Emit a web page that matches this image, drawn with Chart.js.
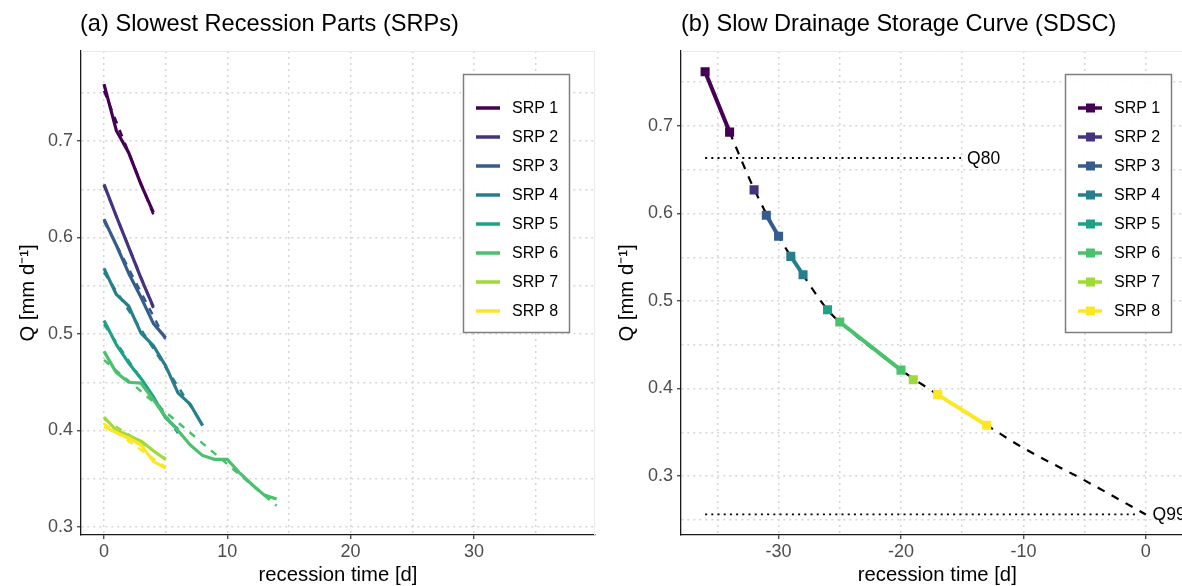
<!DOCTYPE html>
<html><head><meta charset="utf-8">
<script src="https://cdn.jsdelivr.net/npm/chart.js@4.4.1/dist/chart.umd.min.js"></script>
<style>
html,body{margin:0;padding:0;background:#fff;overflow:hidden;width:1182px;height:586px;position:relative;}
#ca{position:absolute;left:0;top:0;}
#cb{position:absolute;left:600px;top:0;}
</style></head><body>
<canvas id="ca" width="600" height="586"></canvas>
<canvas id="cb" width="600" height="586"></canvas>
<script>
// ---------- data ----------
const srpNames = ['SRP 1','SRP 2','SRP 3','SRP 4','SRP 5','SRP 6','SRP 7','SRP 8'];
const srpColors = ['#440154','#46337E','#365C8D','#277F8E','#1FA187','#4AC16D','#A0DA39','#FDE725'];

// Panel (a): recession time [d] and Q [mm/d] per SRP
const srp1Days = [0,1,2,3,4];
const srp1Q    = [0.759,0.711,0.688,0.655,0.626];
const srp2Days = [0,1,2,3,4];
const srp2Q    = [0.655,0.622,0.590,0.558,0.528];
const srp3Days = [0,1,2,3,4,5];
const srp3Q    = [0.619,0.592,0.563,0.538,0.511,0.496];
const srp4Days = [0,1,2,3,4,5,6,7,8];
const srp4Q    = [0.568,0.541,0.529,0.501,0.488,0.467,0.439,0.427,0.405];
const srp5Days = [0,1,2,3,4,5,6];
const srp5Q    = [0.514,0.489,0.470,0.454,0.435,0.413,0.401];
const srp6Days = [0,1,2,3,4,5,6,7,8,9,10,11,12,13,14];
const srp6Q    = [0.482,0.460,0.450,0.449,0.432,0.414,0.400,0.385,0.374,0.370,0.370,0.356,0.344,0.333,0.329];
const srp7Days = [0,1,2,3,4,5];
const srp7Q    = [0.414,0.400,0.395,0.389,0.379,0.370];
const srp8Days = [0,1,2,3,4,5];
const srp8Q    = [0.404,0.398,0.392,0.385,0.368,0.361];

// fitted (dashed) lines of panel (a): start / end values
const fitStartQ = [0.752,0.654,0.617,0.564,0.510,0.473,0.412,0.407];
const fitEndQ   = [0.624,0.527,0.494,0.406,0.397,0.322,0.371,0.362];

// Panel (b): slow drainage storage curve
const sdsc1T = [-36,-34];  const sdsc1Q = [0.762,0.693];
const sdsc2T = [-32];      const sdsc2Q = [0.627];
const sdsc3T = [-31,-30];  const sdsc3Q = [0.598,0.574];
const sdsc4T = [-29,-28];  const sdsc4Q = [0.551,0.530];
const sdsc5T = [-26];      const sdsc5Q = [0.490];
const sdsc6T = [-25,-20];  const sdsc6Q = [0.476,0.421];
const sdsc7T = [-19];      const sdsc7Q = [0.410];
const sdsc8T = [-17,-13];  const sdsc8Q = [0.393,0.358];

const masterT = [-34,-32,-30,-28,-26,-24,-22,-20,-17,-13,-10,-5,0];
const masterQ = [0.693,0.628,0.574,0.530,0.490,0.464,0.442,0.421,0.393,0.358,0.332,0.295,0.256];

const qNames  = ['Q80','Q99'];
const qValues = [0.6634,0.2562];
const qStartT = [-36,-36];
const qEndT   = [-15.1,-0.6];
const qLabelT = [-14.6,0.55];

// ticks
const aXMajor = [0,10,20,30];          const aXMinor = [5,15,25,35];
const aYMajor = [0.3,0.4,0.5,0.6,0.7]; const aYMinor = [0.35,0.45,0.55,0.65,0.75];
const bXMajor = [-30,-20,-10,0];       const bXMinor = [-35,-25,-15,-5];
const bYMajor = [0.3,0.4,0.5,0.6,0.7]; const bYMinor = [0.25,0.35,0.45,0.55,0.65,0.75];

const titleA = '(a) Slowest Recession Parts (SRPs)';
const titleB = '(b) Slow Drainage Storage Curve (SDSC)';
const xTitle = 'recession time [d]';
const yTitle = 'Q [mm d\u207B\u00B9]';

// ---------- helpers ----------
const FONT = '"Liberation Sans", Arial, Helvetica, sans-serif';
Chart.defaults.font.family = FONT;
Chart.defaults.animation = false;

function pts(xs, ys){ return xs.map((x,i)=>({x:x, y:ys[i]})); }
function isIn(arr, v){ return arr.some(m=>Math.abs(m-v)<1e-9); }

function makeScale(pos, min, max, majors, minors, title, titlePad, size){
  const horiz = pos === 'bottom';
  return {
    type:'linear', position:pos, min:min, max:max,
    afterBuildTicks: s => { s.ticks = majors.concat(minors).sort((a,b)=>a-b).map(v=>({value:v})); },
    afterFit: s => { if (horiz) s.height = size; else s.width = size; },
    ticks:{
      autoSkip:false, maxRotation:0, minRotation:0,
      color:'#4D4D4D', font:{size:18}, padding: horiz ? 2 : 4,
      callback: v => isIn(majors, v) ? String(v) : ''
    },
    grid:{
      color:'#d6d6d6', lineWidth:1.5, drawTicks:true, tickLength:4, tickWidth:1.2,
      tickColor: c => (c.tick && isIn(majors, c.tick.value)) ? '#333333' : 'rgba(0,0,0,0)'
    },
    border:{ display:true, color:'#1a1a1a', width:1.3, dash:[2,4] },
    title:{ display:true, text:title, color:'#000', font:{size:20.3, lineHeight:1},
            padding: horiz ? {top:0,bottom:0} : {top:titlePad,bottom:0} }
  };
}

function titlePlugin(text, x){
  return { id:'ttl', afterDraw(chart){
    const c = chart.ctx; c.save();
    c.font = '23.6px ' + FONT; c.fillStyle = '#000'; c.textBaseline = 'middle'; c.textAlign = 'left';
    c.fillText(text, x, 24); c.restore();
  }};
}
const panelBorder = { id:'pb', beforeDatasetsDraw(chart){
  const a = chart.chartArea, c = chart.ctx; c.save();
  c.strokeStyle = '#ebebeb'; c.lineWidth = 1;
  c.beginPath(); c.moveTo(a.left, a.top+0.5); c.lineTo(a.right, a.top+0.5);
  c.moveTo(a.right-0.5, a.top); c.lineTo(a.right-0.5, a.bottom); c.stroke(); c.restore();
}};

function legendPlugin(bx, withMarker){
  return { id:'lg', afterDraw(chart){
    const c = chart.ctx; c.save();
    c.fillStyle = 'rgba(255,255,255,0.9)'; c.fillRect(bx, 74, 106, 258);
    c.strokeStyle = '#7f7f7f'; c.lineWidth = 1.5; c.strokeRect(bx+0.5, 74.5, 106, 258);
    c.font = '16px ' + FONT; c.textBaseline = 'middle'; c.textAlign = 'left';
    srpNames.forEach((n,i)=>{
      const y = 108 + i*29;
      c.strokeStyle = srpColors[i]; c.lineWidth = 3.5;
      c.beginPath(); c.moveTo(bx+13, y); c.lineTo(bx+37, y); c.stroke();
      if (withMarker){ c.fillStyle = srpColors[i]; c.fillRect(bx+21, y-4.5, 9, 9); }
      c.fillStyle = '#000'; c.fillText(n, bx+49, y+0.5);
    });
    c.restore();
  }};
}

// ---------- panel (a) ----------
const aDays = [srp1Days,srp2Days,srp3Days,srp4Days,srp5Days,srp6Days,srp7Days,srp8Days];
const aQ    = [srp1Q,srp2Q,srp3Q,srp4Q,srp5Q,srp6Q,srp7Q,srp8Q];
const aSets = [];
aQ.forEach((q,i)=>{
  aSets.push({ label:srpNames[i], data:pts(aDays[i], q), borderColor:srpColors[i], borderWidth:3.2,
    pointRadius:0, showLine:true, borderJoinStyle:'round', order:100-i });
});
aQ.forEach((q,i)=>{
  const d = aDays[i];
  aSets.push({ label:srpNames[i]+' fit', data:pts([d[0], d[d.length-1]], [fitStartQ[i], fitEndQ[i]]),
    borderColor:srpColors[i], borderWidth:2.5, borderDash:[7,7], pointRadius:0, showLine:true, order:150-i });
});

new Chart(document.getElementById('ca'), {
  type:'scatter',
  data:{ datasets:aSets },
  options:{
    responsive:false, animation:false,
    layout:{ padding:{ left:0, top:51, right:5, bottom:0 } },
    plugins:{ legend:{display:false}, tooltip:{enabled:false} },
    scales:{
      x: makeScale('bottom', -1.865, 39.82, aXMajor, aXMinor, xTitle, 0, 51),
      y: makeScale('left', 0.2917, 0.7933, aYMajor, aYMinor, yTitle, 18, 81)
    }
  },
  plugins:[panelBorder, titlePlugin(titleA, 80), legendPlugin(463, false)]
});

// ---------- panel (b) ----------
const bT = [sdsc1T,sdsc2T,sdsc3T,sdsc4T,sdsc5T,sdsc6T,sdsc7T,sdsc8T];
const bQ = [sdsc1Q,sdsc2Q,sdsc3Q,sdsc4Q,sdsc5Q,sdsc6Q,sdsc7Q,sdsc8Q];
const bSets = [];
bQ.forEach((q,i)=>{
  bSets.push({ label:srpNames[i], data:pts(bT[i], q), borderColor:srpColors[i], backgroundColor:srpColors[i],
    borderWidth:4, pointStyle:'rect', pointRadius:6.4, pointBorderWidth:0, pointBackgroundColor:srpColors[i],
    showLine:true, order:10-i });
});
bSets.push({ label:'master', data:pts(masterT, masterQ), borderColor:'#000', borderWidth:2.2, borderDash:[8,8],
  pointRadius:0, showLine:true, cubicInterpolationMode:'monotone', order:200 });
qNames.forEach((n,i)=>{
  bSets.push({ label:n, data:pts([qStartT[i], qEndT[i]], [qValues[i], qValues[i]]), borderColor:'#000',
    borderWidth:1.8, borderDash:[2,4.2], pointRadius:0, showLine:true, order:210 });
});
const qLabelPlugin = { id:'ql', afterDatasetsDraw(chart){
  const c = chart.ctx, sx = chart.scales.x, sy = chart.scales.y; c.save();
  c.font = '17.5px ' + FONT; c.fillStyle = '#000'; c.textBaseline = 'middle'; c.textAlign = 'left';
  qNames.forEach((n,i)=> c.fillText(n, sx.getPixelForValue(qLabelT[i]), sy.getPixelForValue(qValues[i]) + 1));
  c.restore();
}};

new Chart(document.getElementById('cb'), {
  type:'scatter',
  data:{ datasets:bSets },
  options:{
    responsive:false, animation:false,
    layout:{ padding:{ left:0, top:51, right:4, bottom:0 } },
    plugins:{ legend:{display:false}, tooltip:{enabled:false} },
    scales:{
      x: makeScale('bottom', -37.97, 3.9, bXMajor, bXMinor, xTitle, 0, 51),
      y: makeScale('left', 0.2326, 0.7857, bYMajor, bYMinor, yTitle, 17, 81)
    }
  },
  plugins:[panelBorder, titlePlugin(titleB, 81), qLabelPlugin, legendPlugin(465, true)]
});
</script>
</body></html>
